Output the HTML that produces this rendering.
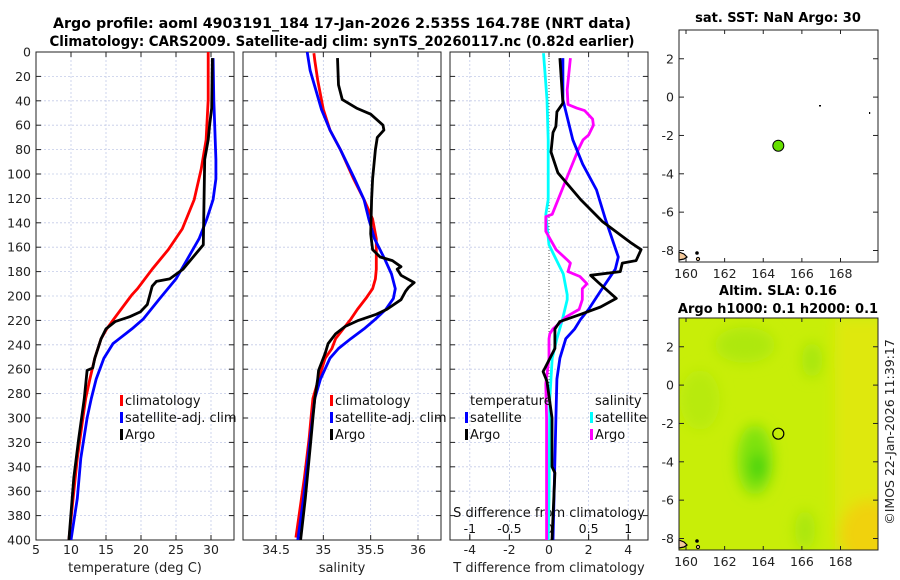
<!DOCTYPE html>
<html><head><meta charset="utf-8"><style>
html,body{margin:0;padding:0;background:#fff;width:900px;height:580px;overflow:hidden}
svg{display:block;font-family:"DejaVu Sans","Liberation Sans",sans-serif}
</style></head><body>
<svg id="fig" width="900" height="580" viewBox="0 0 900 580" xmlns="http://www.w3.org/2000/svg">
<defs>
<filter id="blur" x="-50%" y="-50%" width="200%" height="200%"><feGaussianBlur stdDeviation="7"/></filter>
<clipPath id="clipT"><rect x="36" y="52" width="198" height="488"/></clipPath>
<clipPath id="clipS"><rect x="243" y="52" width="198" height="488"/></clipPath>
<clipPath id="clipD"><rect x="450" y="52" width="198" height="488"/></clipPath>
<clipPath id="clipM2"><rect x="679" y="318" width="199" height="232"/></clipPath>
</defs>
<text x="342" y="28" text-anchor="middle" font-weight="bold" font-size="14" textLength="578" lengthAdjust="spacingAndGlyphs">Argo profile: aoml 4903191_184 17-Jan-2026 2.535S 164.78E (NRT data)</text>
<text x="342" y="46" text-anchor="middle" font-weight="bold" font-size="14" textLength="585" lengthAdjust="spacingAndGlyphs">Climatology: CARS2009. Satellite-adj clim: synTS_20260117.nc (0.82d earlier)</text>
<text x="778" y="22" text-anchor="middle" font-weight="bold" font-size="13">sat. SST: NaN Argo: 30</text>
<text x="778" y="295" text-anchor="middle" font-weight="bold" font-size="13">Altim. SLA: 0.16</text>
<text x="778" y="313" text-anchor="middle" font-weight="bold" font-size="13">Argo h1000: 0.1 h2000: 0.1</text>
<text transform="translate(894,432) rotate(-90)" text-anchor="middle" font-size="12.5" fill="#222">©IMOS 22-Jan-2026 11:39:17</text>
<g id="layer"></g>
</svg>
<script>
// ---- data (depth in m, values in data units) ----
const depthTicks=[0,20,40,60,80,100,120,140,160,180,200,220,240,260,280,300,320,340,360,380,400];
const tempTicks=[5,10,15,20,25,30];
const salTicks=[34.5,35,35.5,36];
const tdiffTicks=[-4,-2,0,2,4];
const sdiffTicks=[-1,-0.5,0,0.5,1];
const tdiffLabels=["-4","-2","0","2","4"];
const sdiffLabels=["-1","-0.5","0","0.5","1"];

const tClimDepth=[0,39,72,96,121,145,162,178,194,199,219,227,235,251,268,284,300,333,366,400];
const tClimVal=[29.6,29.6,29.3,28.6,27.6,25.9,23.9,21.6,19.5,18.7,16.1,15.1,14.3,13.4,12.7,12.1,11.7,10.9,10.3,9.7];
const tSatDepth=[5,39,88,104,121,137,153,170,186,202,219,227,235,239,251,268,284,300,333,366,400];
const tSatVal=[30.3,30.4,30.7,30.7,30.3,29.4,28.3,26.6,25,22.7,20.3,18.7,16.9,16,14.7,13.6,12.9,12.3,11.4,10.9,10];
const tArgoDepth=[5,46,60,72,88,158,178,186,188,192,207,213,217,221,227,235,251,259,261,284,317,349,400];
const tArgoVal=[30.2,30.1,29.8,29.6,29.1,28.9,26.0,24.1,22.2,21.6,20.9,19.9,18.4,16.3,15,14.3,13.4,13.1,12.3,11.9,11.1,10.4,9.7];

const sClimDepth=[1,7,23,47,64,80,104,121,137,153,178,186,194,202,211,219,227,235,243,251,268,284,300,317,349,398];
const sClimVal=[34.9,34.91,34.94,35.0,35.07,35.18,35.32,35.43,35.52,35.56,35.56,35.55,35.52,35.45,35.36,35.29,35.21,35.13,35.09,35.02,34.95,34.89,34.87,34.85,34.8,34.71];
const sSatDepth=[0,15,31,47,64,80,104,121,137,153,170,182,194,202,211,219,227,235,243,251,268,284,317,366,400];
const sSatVal=[34.83,34.86,34.92,34.98,35.07,35.18,35.33,35.43,35.48,35.54,35.65,35.72,35.76,35.74,35.66,35.55,35.43,35.29,35.16,35.07,34.97,34.91,34.86,34.79,34.73];
const sArgoDepth=[5,27,39,46,51,60,64,70,80,104,121,149,162,168,171,176,178,183,189,193,196,203,211,215,220,225,231,239,247,261,268,284,300,317,366,400];
const sArgoVal=[35.15,35.16,35.2,35.35,35.5,35.63,35.64,35.57,35.55,35.52,35.51,35.5,35.52,35.6,35.73,35.82,35.78,35.82,35.96,35.9,35.87,35.82,35.67,35.56,35.37,35.23,35.13,35.05,35.02,34.95,34.94,34.91,34.89,34.87,34.81,34.76];

const dtSatDepth=[5,39,72,92,113,137,168,178,196,211,219,227,235,251,268,300,400];
const dtSatVal=[0.7,0.7,1.2,1.7,2.4,2.85,3.5,3.35,2.6,2.0,1.6,1.3,0.85,0.55,0.4,0.35,0.2];
const dtArgoDepth=[5,42,49,61,66,82,99,121,139,156,162,171,173,180,183,189,202,209,215,221,227,243,259,262,270,300,340,345,400];
const dtArgoVal=[0.55,0.7,0.4,0.35,0.2,0.1,0.45,1.6,2.7,4.1,4.65,4.4,3.7,3.6,2.1,2.5,3.4,2.6,1.6,0.55,0.3,0.3,-0.2,-0.3,-0.1,0.15,0.15,0.3,0.15];
const dsSatDepth=[1,39,72,121,133,158,170,182,199,203,219,235,251,284,366,400];
const dsSatVal=[-0.07,-0.025,-0.01,-0.01,-0.04,0,0.09,0.18,0.23,0.23,0.17,0.1,0.04,0.01,0,-0.01];
const dsArgoDepth=[5,31,43,46,48,55,60,68,72,80,104,133,135,147,162,171,173,180,184,190,194,203,211,217,223,227,231,235,251,272,300,400];
const dsArgoVal=[0.27,0.23,0.24,0.35,0.45,0.55,0.56,0.5,0.43,0.37,0.22,0.04,-0.04,-0.04,0.09,0.24,0.27,0.24,0.39,0.48,0.42,0.42,0.38,0.22,0.12,0.05,0.01,0,0,-0.04,-0.03,-0.03];

const latTicks=[2,0,-2,-4,-6,-8];
const lonTicks=[160,162,164,166,168];
const argoLon=164.78, argoLat=-2.535;

// ---- helpers ----
const NS="http://www.w3.org/2000/svg";
const layer=document.getElementById('layer');
function mk(tag,attrs,parent){const e=document.createElementNS(NS,tag);for(const k in attrs)e.setAttribute(k,attrs[k]);(parent||layer).appendChild(e);return e;}
const Y0=52,Y1=540;
const yD=d=>Y0+d/400*(Y1-Y0);
function lin(d0,d1,p0,p1){return v=>p0+(v-d0)/(d1-d0)*(p1-p0);}
const xT=lin(5,30,36,211);
const xS=lin(34.5,36,276,418);
const xDT=lin(-5,5,450,648);
const xDS=lin(-1.25,1.25,450,648);

function panel(x0,name,xs,xticks,xlabels,gridX){
  const g=mk('g',{});
  
  
  mk('rect',{x:x0,y:Y0,width:198,height:Y1-Y0,fill:'#fff'},g);
  depthTicks.forEach(d=>{
    if(d>0&&d<400){const l=mk('line',{x1:x0,x2:x0+198,y1:yD(d),y2:yD(d),stroke:'#c3cbe8','stroke-width':0.8,'stroke-dasharray':'2,2'},g);
    
    }
    mk('line',{x1:x0,x2:x0+5,y1:yD(d),y2:yD(d),stroke:'#222'},g);
    mk('line',{x1:x0+193,x2:x0+198,y1:yD(d),y2:yD(d),stroke:'#222'},g);
  });
  xticks.forEach((v,i)=>{
    const x=xs(v);
    if(gridX[i]){const l=mk('line',{x1:x,x2:x,y1:Y0,y2:Y1,stroke:'#c3cbe8','stroke-width':0.8,'stroke-dasharray':'2,2'},g);
    
    }
    mk('line',{x1:x,x2:x,y1:Y1,y2:Y1-5,stroke:'#222'},g);
    mk('line',{x1:x,x2:x,y1:Y0,y2:Y0+5,stroke:'#222'},g);
    const t=mk('text',{x:x,y:554,'text-anchor':'middle','font-size':12.5,fill:'#222'},g);
    t.textContent=xlabels[i];
    
    
  });
  return g;
}
function frame(x0,g){mk('rect',{x:x0,y:Y0,width:198,height:Y1-Y0,fill:'none',stroke:'#222','stroke-width':1},g);}
function series(depths,vals,xs,color,clip,name,w){
  let d='';depths.forEach((dd,i)=>{d+=(i?'L':'M')+xs(vals[i]).toFixed(1)+','+yD(dd).toFixed(1);});
  const p=mk('path',{d:d,fill:'none',stroke:color,'stroke-width':w||2.8,'stroke-linejoin':'round','clip-path':'url(#'+clip+')'});
  
  
  return p;
}
function legend(x,y,color,label,name){
  const g=mk('g',{});
  
  
  mk('rect',{x:x,y:y-10,width:3,height:11,fill:color},g);
  const t=mk('text',{x:x+5,y:y,'font-size':13,fill:'#111'},g);t.textContent=label;
}

// Temperature panel
const gT=panel(36,'temperature-panel',xT,tempTicks,tempTicks.map(String),[0,1,1,1,1,1]);
series(tClimDepth,tClimVal,xT,'#ff0000','clipT','temp-climatology-line');
series(tSatDepth,tSatVal,xT,'#0000ff','clipT','temp-satellite-line');
series(tArgoDepth,tArgoVal,xT,'#000000','clipT','temp-argo-line');
frame(36,gT);
depthTicks.forEach(d=>{const t=mk('text',{x:31,y:yD(d)+4.5,'text-anchor':'end','font-size':12.5,fill:'#222'});t.textContent=d;

});
legend(120,405,'#ff0000','climatology','legend-climatology-t');
legend(120,422,'#0000ff','satellite-adj. clim','legend-satellite-t');
legend(120,439,'#000','Argo','legend-argo-t');
const xl1=mk('text',{x:135,y:572,'text-anchor':'middle','font-size':13,fill:'#222'});xl1.textContent='temperature (deg C)';



// Salinity panel
const gS=panel(243,'salinity-panel',xS,salTicks,['34.5','35','35.5','36'],[1,1,1,1]);
series(sClimDepth,sClimVal,xS,'#ff0000','clipS','sal-climatology-line');
series(sSatDepth,sSatVal,xS,'#0000ff','clipS','sal-satellite-line');
series(sArgoDepth,sArgoVal,xS,'#000000','clipS','sal-argo-line');
frame(243,gS);
legend(330,405,'#ff0000','climatology','legend-climatology-s');
legend(330,422,'#0000ff','satellite-adj. clim','legend-satellite-s');
legend(330,439,'#000','Argo','legend-argo-s');
const xl2=mk('text',{x:342,y:572,'text-anchor':'middle','font-size':13,fill:'#222'});xl2.textContent='salinity';



// Difference panel
const gD=panel(450,'difference-panel',xDT,tdiffTicks,tdiffLabels,[1,1,0,1,1]);
mk('line',{x1:xDT(0),x2:xDT(0),y1:Y0,y2:Y1,stroke:'#555','stroke-width':1,'stroke-dasharray':'1,2'},gD);
series(dsSatDepth,dsSatVal,xDS,'#00ffff','clipD','sdiff-satellite-line');
series(dsArgoDepth,dsArgoVal,xDS,'#ff00ff','clipD','sdiff-argo-line');
series(dtSatDepth,dtSatVal,xDT,'#0000ff','clipD','tdiff-satellite-line');
series(dtArgoDepth,dtArgoVal,xDT,'#000000','clipD','tdiff-argo-line');
sdiffTicks.forEach((v,i)=>{const x=xDS(v);
  mk('line',{x1:x,x2:x,y1:Y1,y2:Y1-6,stroke:'#222'},gD);
  const t=mk('text',{x:x,y:533,'text-anchor':'middle','font-size':12.5,fill:'#111'},gD);t.textContent=sdiffLabels[i];
  
  });
const sdt=mk('text',{x:549,y:517,'text-anchor':'middle','font-size':13,fill:'#111'},gD);sdt.textContent='S difference from climatology';


frame(450,gD);
const lt=mk('text',{x:470,y:405,'font-size':13,fill:'#111'});lt.textContent='temperature';


const ls=mk('text',{x:595,y:405,'font-size':13,fill:'#111'});ls.textContent='salinity';


legend(465,422,'#0000ff','satellite','legend-tdiff-satellite');
legend(465,439,'#000','Argo','legend-tdiff-argo');
legend(590,422,'#00ffff','satellite','legend-sdiff-satellite');
legend(590,439,'#ff00ff','Argo','legend-sdiff-argo');
const xl3=mk('text',{x:549,y:572,'text-anchor':'middle','font-size':13,fill:'#222'});xl3.textContent='T difference from climatology';



// Maps
const lonX=lin(160,168,686,840.5);
function mapAxes(y0,y1,name,bg){
  const latY=lin(3.5,-8.6,y0,y1);
  const g=mk('g',{});
  
  
  if(bg) bg(g,latY);
  mk('path',{d:`M679,${y1-10} l5,2 l3,3 l-3,2 l-5,1 z`,fill:'#f4c99a',stroke:'#000','stroke-width':1.2},g);
  mk('circle',{cx:697,cy:y1-9,r:1.8,fill:'#000'},g);
  mk('circle',{cx:698,cy:y1-3,r:1.6,fill:'#f4c99a',stroke:'#000','stroke-width':1},g);
  mk('rect',{x:679,y:y0,width:199,height:y1-y0,fill:'none',stroke:'#222'},g);
  latTicks.forEach(v=>{const y=latY(v);
    mk('line',{x1:679,x2:684,y1:y,y2:y,stroke:'#222'},g);
    mk('line',{x1:873,x2:878,y1:y,y2:y,stroke:'#222'},g);
    const t=mk('text',{x:674,y:y+4.5,'text-anchor':'end','font-size':12.5,fill:'#222'},g);t.textContent=v;
    
    });
  lonTicks.forEach(v=>{const x=lonX(v);
    mk('line',{x1:x,x2:x,y1:y0,y2:y0+4,stroke:'#222'},g);
    mk('line',{x1:x,x2:x,y1:y1,y2:y1-4,stroke:'#222'},g);
    const t=mk('text',{x:x,y:y1+16,'text-anchor':'middle','font-size':12.5,fill:'#222'},g);t.textContent=v;
    
    });
  return {g,latY};
}
const m1=mapAxes(30,262,'sst-map',null);
const p1=mk('circle',{cx:lonX(argoLon),cy:m1.latY(argoLat),r:5.5,fill:'#66e000',stroke:'#000','stroke-width':1},m1.g);


mk('rect',{x:819,y:105,width:2,height:1.5,fill:'#000'},m1.g);
mk('rect',{x:869,y:112,width:1.2,height:2,fill:'#000'},m1.g);

const m2=mapAxes(318,550,'sla-map',(g,latY)=>{
  const bg=mk('g',{'clip-path':'url(#clipM2)'},g);
  mk('rect',{x:679,y:318,width:199,height:232,fill:'#c8ee08'},bg);
  const blobs=mk('g',{filter:'url(#blur)'},bg);
  mk('rect',{x:835,y:318,width:50,height:232,fill:'#dfe80a'},blobs);
  mk('ellipse',{cx:870,cy:535,rx:30,ry:35,fill:'#f0d20a'},blobs);
  mk('ellipse',{cx:755,cy:460,rx:18,ry:35,fill:'#7ee20a'},blobs);
  mk('ellipse',{cx:758,cy:467,rx:8,ry:14,fill:'#3ed20a'},blobs);
  mk('ellipse',{cx:745,cy:345,rx:30,ry:18,fill:'#aee80a'},blobs);
  mk('ellipse',{cx:812,cy:360,rx:10,ry:18,fill:'#a6e60a'},blobs);
  mk('ellipse',{cx:805,cy:530,rx:10,ry:20,fill:'#a8e60a'},blobs);
  mk('ellipse',{cx:700,cy:400,rx:20,ry:30,fill:'#b8ea08'},blobs);
});
const p2=mk('circle',{cx:lonX(argoLon),cy:m2.latY(argoLat),r:5.5,fill:'none',stroke:'#000','stroke-width':1.2},m2.g);


</script>
</body></html>
